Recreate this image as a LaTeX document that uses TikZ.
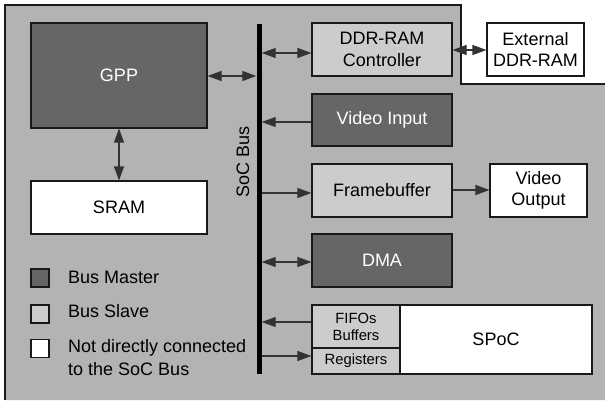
\documentclass[tikz,border=0pt]{standalone}
\usepackage{fontspec}
\setmainfont{Liberation Sans}
\usetikzlibrary{arrows.meta}
\definecolor{bgc}{HTML}{B3B3B3}
\definecolor{darkc}{HTML}{666666}
\definecolor{lightc}{HTML}{CCCCCC}
\definecolor{linec}{HTML}{333333}
\tikzset{
  box/.style={draw=black!90, line width=1.1pt, inner sep=0pt, align=center,
    font=\fontsize{18}{21.5}\selectfont},
  master/.style={box, fill=darkc, text=white},
  slave/.style={box, fill=lightc},
  other/.style={box, fill=white},
  small/.style={font=\fontsize{14.8}{17}\selectfont},
  conn/.style={draw=linec, line width=1.1pt, {Triangle[length=14pt,width=10pt]}-{Triangle[length=14pt,width=10pt]}},
  connr/.style={draw=linec, line width=1.1pt, -{Triangle[length=14pt,width=10pt]}},
  legtext/.style={anchor=base west, inner sep=0pt, font=\fontsize{18}{23}\selectfont, align=left},
  legbox/.style={draw=black!90, line width=1.1pt, minimum width=18pt, minimum height=18pt, inner sep=0pt},
}
\begin{document}
\begin{tikzpicture}[x=1pt,y=-1pt]
\useasboundingbox (0,0) rectangle (605,400);
\fill[bgc] (5,400)--(5,5)--(461,5)--(461,84)--(605,84)--(605,400)--cycle;
\draw[black!90, line width=1.1pt] (5,400)--(5,5)--(461,5)--(461,84)--(605,84);

\node[master, minimum width=176pt, minimum height=105pt] (gpp) at (119,75.5) {GPP};
\node[other, minimum width=176pt, minimum height=53pt] (sram) at (119,207.5) {SRAM};
\node[slave, minimum width=140pt, minimum height=53pt] (ddr) at (382,49.5) {DDR-RAM\\Controller};
\node[other, minimum width=97pt, minimum height=53pt] (ext) at (535.5,49.5) {External\\DDR-RAM};
\node[master, minimum width=140pt, minimum height=52pt] (vin) at (382,120) {Video Input};
\node[slave, minimum width=140pt, minimum height=53pt] (fb) at (382,190.5) {Framebuffer};
\node[other, minimum width=97pt, minimum height=53pt] (vout) at (538.5,190.5) {Video\\Output};
\node[master, minimum width=140pt, minimum height=53pt] (dma) at (382,260.5) {DMA};
\node[slave, small, minimum width=88pt, minimum height=43pt] (fifo) at (356,326.5) {FIFOs\\Buffers};
\node[slave, small, minimum width=88pt, minimum height=26pt] (reg) at (356,361) {Registers};
\node[other, minimum width=192pt, minimum height=69pt] (spoc) at (496,339.5) {SPoC};

\node[fill=black, inner sep=0pt, minimum width=5pt, minimum height=350pt] (bus) at (259,199) {};
\node[rotate=90, font=\fontsize{18}{21}\selectfont, inner sep=0pt] (buslabel) at (243,162) {SoC Bus};

\coordinate (a1) at (0,76);
\draw[conn] (a1 -| gpp.east) -- (a1 -| bus.west);
\coordinate (a2) at (0,53);
\draw[conn] (a2 -| bus.east) -- (a2 -| ddr.west);
\coordinate (a3) at (0,50);
\draw[conn] (a3 -| ddr.east) -- (a3 -| ext.west);
\coordinate (a4) at (0,122);
\draw[connr] (a4 -| vin.west) -- (a4 -| bus.east);
\coordinate (a5) at (0,193);
\draw[connr] (a5 -| bus.east) -- (a5 -| fb.west);
\coordinate (a6) at (0,190);
\draw[connr] (a6 -| fb.east) -- (a6 -| vout.west);
\coordinate (a7) at (0,262);
\draw[conn] (a7 -| bus.east) -- (a7 -| dma.west);
\coordinate (a8) at (0,322);
\draw[connr] (a8 -| fifo.west) -- (a8 -| bus.east);
\coordinate (a9) at (0,356);
\draw[connr] (a9 -| bus.east) -- (a9 -| reg.west);
\draw[conn] (gpp.south) -- (sram.north);

\node[legbox, fill=darkc] (lm) at (40,278) {};
\node[legbox, fill=lightc] (ls) at (40,314) {};
\node[legbox, fill=white] (lo) at (40,348.5) {};
\node[legtext] (tm) at (68,283) {Bus Master};
\node[legtext] (ts) at (68,317) {Bus Slave};
\node[legtext, anchor=west] (to) at (68,358) {Not directly connected\\to the SoC Bus};
\end{tikzpicture}
\end{document}
